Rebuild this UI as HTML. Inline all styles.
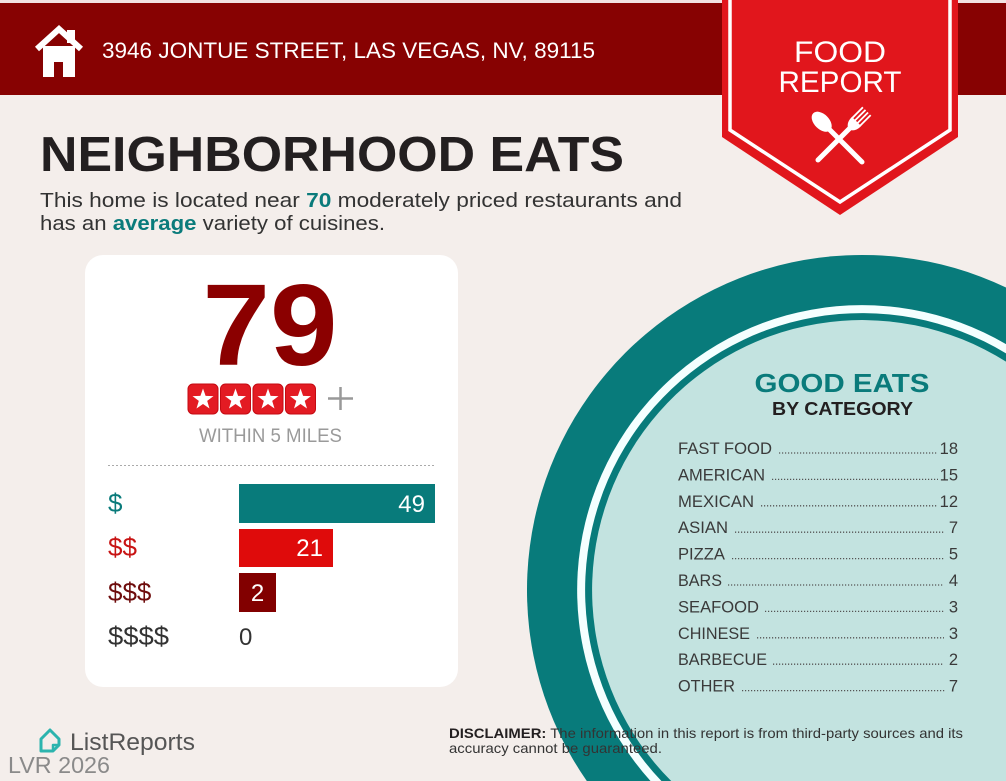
<!DOCTYPE html>
<html><head><meta charset="utf-8"><style>
html,body{margin:0;padding:0;background:#f4eeeb;width:1006px;height:781px;overflow:hidden;}
svg{display:block;}
text{font-family:"Liberation Sans",sans-serif;}
</style></head><body>
<svg width="1006" height="781" viewBox="0 0 1006 781" xmlns="http://www.w3.org/2000/svg">
<rect x="0" y="0" width="1006" height="781" fill="#f4eeeb"/>
<!-- header band -->
<rect x="0" y="0" width="1006" height="3" fill="#f2e2e2"/>
<rect x="0" y="3" width="1006" height="92" fill="#870202"/>
<!-- house icon -->
<rect x="67" y="30" width="8" height="13" fill="#fff"/>
<rect x="43" y="46" width="32" height="31" fill="#fff"/>
<path d="M37 49 L59 29 L81 49" fill="none" stroke="#fff" stroke-width="6" stroke-linejoin="miter"/>
<rect x="54" y="62" width="9" height="15" fill="#870202"/>
<text x="102" y="58" font-size="22" fill="#fff" textLength="493" lengthAdjust="spacingAndGlyphs">3946 JONTUE STREET, LAS VEGAS, NV, 89115</text>

<!-- banner -->
<polygon points="722,0 958,0 958,137 840,215 722,137" fill="#e1161c"/>
<polyline points="730,0 730,130 840,202 950,130 950,0" fill="none" stroke="#fff" stroke-width="3.5"/>
<text x="840" y="62" font-size="30" fill="#fff" text-anchor="middle" textLength="92" lengthAdjust="spacingAndGlyphs">FOOD</text>
<text x="840" y="92" font-size="30" fill="#fff" text-anchor="middle" textLength="123" lengthAdjust="spacingAndGlyphs">REPORT</text>
<!-- fork -->
<g transform="translate(818,160) rotate(45)" fill="#fff" stroke="#fff">
  <line x1="0" y1="0" x2="0" y2="-50" stroke-width="5" stroke-linecap="round"/>
  <path d="M-6 -54 Q-6 -46 0 -44 Q6 -46 6 -54 Z" stroke-width="1"/>
  <line x1="-5.5" y1="-54" x2="-5.5" y2="-69" stroke-width="1.8"/>
  <line x1="-1.8" y1="-54" x2="-1.8" y2="-69" stroke-width="1.8"/>
  <line x1="1.8" y1="-54" x2="1.8" y2="-69" stroke-width="1.8"/>
  <line x1="5.5" y1="-54" x2="5.5" y2="-69" stroke-width="1.8"/>
</g>
<!-- spoon -->
<g transform="translate(862,162) rotate(-45)" fill="#fff" stroke="#fff">
  <line x1="0" y1="0" x2="0" y2="-46" stroke-width="5" stroke-linecap="round"/>
  <ellipse cx="0" cy="-57" rx="7.5" ry="12" stroke="none"/>
</g>

<!-- title -->
<text x="40" y="171" font-size="49" font-weight="bold" fill="#231f20" textLength="584" lengthAdjust="spacingAndGlyphs">NEIGHBORHOOD EATS</text>
<text x="40" y="207" font-size="20.5" fill="#333" textLength="642" lengthAdjust="spacingAndGlyphs">This home is located near <tspan font-weight="bold" fill="#0a7b7b">70</tspan> moderately priced restaurants and</text>
<text x="40" y="230" font-size="20.5" fill="#333" textLength="345" lengthAdjust="spacingAndGlyphs">has an <tspan font-weight="bold" fill="#0a7b7b">average</tspan> variety of cuisines.</text>

<!-- circle (clipped to frame geometrically) -->
<path d="M586.8 781 A335 335 0 0 1 1006 287.5 L1006 781 Z" fill="#087b7b"/>
<path d="M650.5 781 A285 285 0 0 1 1006 344.1 L1006 781 Z" fill="#f4ffff"/>
<path d="M661.4 781 A277 277 0 0 1 1006 353.4 L1006 781 Z" fill="#087b7b"/>
<path d="M671.2 781 A270 270 0 0 1 1006 361.6 L1006 781 Z" fill="#c3e3e0"/>

<text x="842" y="392" font-size="26" font-weight="bold" fill="#0a7b7b" text-anchor="middle" textLength="175" lengthAdjust="spacingAndGlyphs">GOOD EATS</text>
<text x="842.5" y="415" font-size="18" font-weight="bold" fill="#231f20" text-anchor="middle" textLength="141" lengthAdjust="spacingAndGlyphs">BY CATEGORY</text>

<g font-size="16.5" fill="#3a3a3a">
<text x="678" y="454" textLength="94" lengthAdjust="spacingAndGlyphs">FAST FOOD</text>
<text x="958" y="454" text-anchor="end">18</text>
<text x="678" y="480.4" textLength="87" lengthAdjust="spacingAndGlyphs">AMERICAN</text>
<text x="958" y="480.4" text-anchor="end">15</text>
<text x="678" y="506.8" textLength="76" lengthAdjust="spacingAndGlyphs">MEXICAN</text>
<text x="958" y="506.8" text-anchor="end">12</text>
<text x="678" y="533.2" textLength="50" lengthAdjust="spacingAndGlyphs">ASIAN</text>
<text x="958" y="533.2" text-anchor="end">7</text>
<text x="678" y="559.6" textLength="47" lengthAdjust="spacingAndGlyphs">PIZZA</text>
<text x="958" y="559.6" text-anchor="end">5</text>
<text x="678" y="586" textLength="44" lengthAdjust="spacingAndGlyphs">BARS</text>
<text x="958" y="586" text-anchor="end">4</text>
<text x="678" y="612.4" textLength="81" lengthAdjust="spacingAndGlyphs">SEAFOOD</text>
<text x="958" y="612.4" text-anchor="end">3</text>
<text x="678" y="638.8" textLength="72" lengthAdjust="spacingAndGlyphs">CHINESE</text>
<text x="958" y="638.8" text-anchor="end">3</text>
<text x="678" y="665.2" textLength="89" lengthAdjust="spacingAndGlyphs">BARBECUE</text>
<text x="958" y="665.2" text-anchor="end">2</text>
<text x="678" y="691.6" textLength="57" lengthAdjust="spacingAndGlyphs">OTHER</text>
<text x="958" y="691.6" text-anchor="end">7</text>
</g>
<g stroke="#555" stroke-width="1.3" stroke-dasharray="1.2 1.8">
<line x1="779" y1="453" x2="938" y2="453"/>
<line x1="772" y1="479.4" x2="938" y2="479.4"/>
<line x1="761" y1="505.8" x2="938" y2="505.8"/>
<line x1="735" y1="532.2" x2="945" y2="532.2"/>
<line x1="732" y1="558.6" x2="944" y2="558.6"/>
<line x1="728" y1="585" x2="944" y2="585"/>
<line x1="765" y1="611.4" x2="944" y2="611.4"/>
<line x1="757" y1="637.8" x2="944" y2="637.8"/>
<line x1="773" y1="664.2" x2="944" y2="664.2"/>
<line x1="742" y1="690.6" x2="945" y2="690.6"/>
</g>

<!-- card -->
<rect x="85" y="255" width="373" height="432" rx="18" fill="#fff"/>
<text x="270" y="365" font-size="116" font-weight="bold" fill="#8b0000" text-anchor="middle" textLength="135" lengthAdjust="spacingAndGlyphs">79</text>
<g>
  <rect x="188" y="384" width="30" height="30" rx="5" fill="#e31b23" stroke="#c40a12" stroke-width="1"/>
  <rect x="220.5" y="384" width="30" height="30" rx="5" fill="#e31b23" stroke="#c40a12" stroke-width="1"/>
  <rect x="253" y="384" width="30" height="30" rx="5" fill="#e31b23" stroke="#c40a12" stroke-width="1"/>
  <rect x="285.5" y="384" width="30" height="30" rx="5" fill="#e31b23" stroke="#c40a12" stroke-width="1"/>
  <g fill="#fff">
    <polygon transform="translate(203,399.5)" points="0,-11 2.6,-3.6 10.5,-3.4 4.2,1.4 6.5,9 0,4.5 -6.5,9 -4.2,1.4 -10.5,-3.4 -2.6,-3.6"/>
    <polygon transform="translate(235.5,399.5)" points="0,-11 2.6,-3.6 10.5,-3.4 4.2,1.4 6.5,9 0,4.5 -6.5,9 -4.2,1.4 -10.5,-3.4 -2.6,-3.6"/>
    <polygon transform="translate(268,399.5)" points="0,-11 2.6,-3.6 10.5,-3.4 4.2,1.4 6.5,9 0,4.5 -6.5,9 -4.2,1.4 -10.5,-3.4 -2.6,-3.6"/>
    <polygon transform="translate(300.5,399.5)" points="0,-11 2.6,-3.6 10.5,-3.4 4.2,1.4 6.5,9 0,4.5 -6.5,9 -4.2,1.4 -10.5,-3.4 -2.6,-3.6"/>
  </g>
</g>
<line x1="328" y1="398.5" x2="353" y2="398.5" stroke="#999" stroke-width="2.5"/>
<line x1="340.5" y1="387" x2="340.5" y2="410" stroke="#999" stroke-width="2.5"/>
<text x="270.5" y="442" font-size="19" fill="#9a9a9a" text-anchor="middle" textLength="143" lengthAdjust="spacingAndGlyphs">WITHIN 5 MILES</text>
<line x1="108" y1="465.5" x2="435" y2="465.5" stroke="#aaa" stroke-width="1" stroke-dasharray="2 2"/>

<rect x="239" y="484" width="196" height="39" fill="#087b7b"/>
<text x="425" y="512" font-size="24" fill="#fff" text-anchor="end">49</text>
<text x="108" y="512" font-size="26" fill="#0a7b7b">$</text>

<rect x="239" y="529" width="94" height="38" fill="#df0b0b"/>
<text x="323" y="556" font-size="24" fill="#fff" text-anchor="end">21</text>
<text x="108" y="556" font-size="26" fill="#c81414">$$</text>

<rect x="239" y="573" width="37" height="39" fill="#820000"/>
<text x="257.5" y="601" font-size="24" fill="#fff" text-anchor="middle">2</text>
<text x="108" y="601" font-size="26" fill="#6e0c0c">$$$</text>

<text x="108" y="645" font-size="26" fill="#333" textLength="61" lengthAdjust="spacingAndGlyphs">$$$$</text>
<text x="239" y="645" font-size="24" fill="#333">0</text>

<!-- footer -->
<path d="M41 739 L50 730 L59 739 L59 745 L53 751 L41 751 Z" fill="none" stroke="#2cb4ae" stroke-width="3" stroke-linejoin="round"/>
<path d="M53 751 L53 745 L59 745" fill="none" stroke="#2cb4ae" stroke-width="2.5" stroke-linejoin="round"/>
<text x="70" y="750" font-size="24" fill="#555" textLength="125" lengthAdjust="spacingAndGlyphs">ListReports</text>
<text x="8" y="773" font-size="23" fill="#8a8a8a" textLength="102" lengthAdjust="spacingAndGlyphs">LVR 2026</text>

<text x="449" y="738" font-size="14" fill="#333" textLength="514" lengthAdjust="spacingAndGlyphs"><tspan font-weight="bold" fill="#231f20">DISCLAIMER:</tspan> The information in this report is from third-party sources and its</text>
<text x="449" y="753" font-size="14" fill="#333" textLength="213" lengthAdjust="spacingAndGlyphs">accuracy cannot be guaranteed.</text>
</svg>
</body></html>
